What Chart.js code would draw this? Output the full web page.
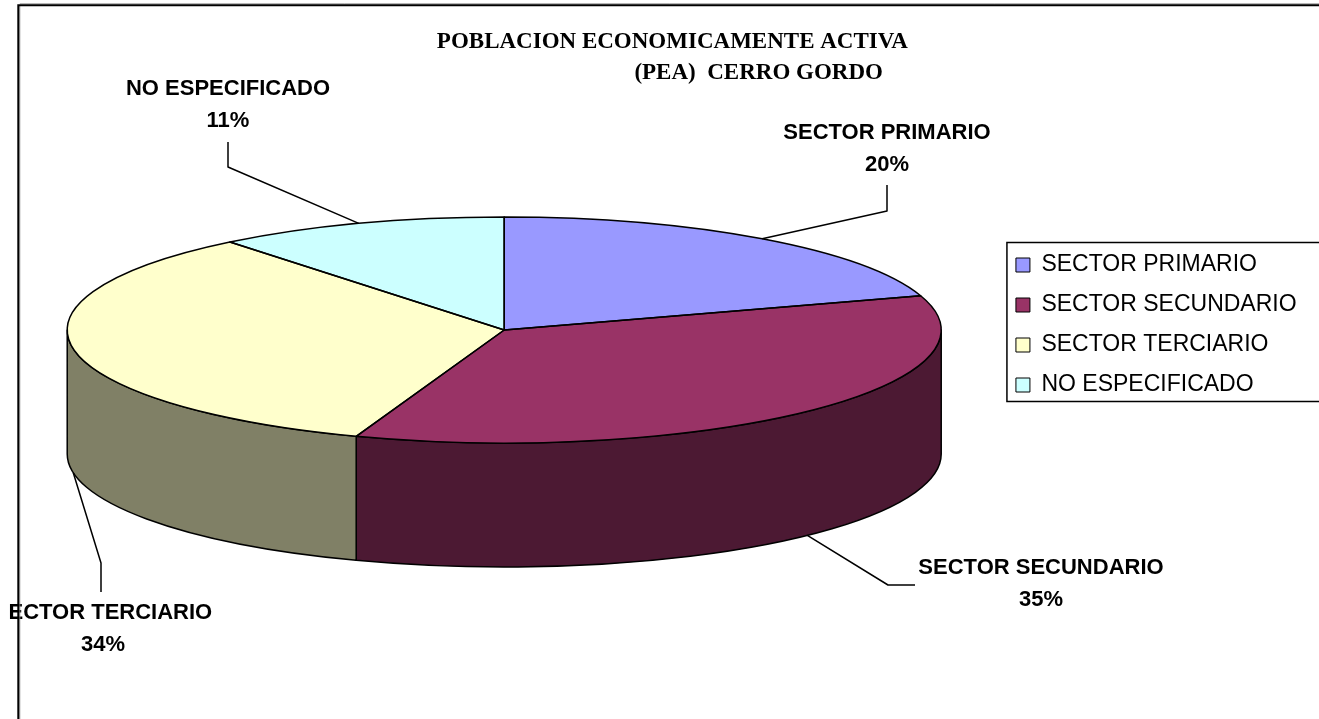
<!DOCTYPE html>
<html>
<head>
<meta charset="utf-8">
<script src="https://cdn.jsdelivr.net/npm/chart.js@4.4.0/dist/chart.umd.min.js"></script>
<style>
html,body{margin:0;padding:0;background:#fff;overflow:hidden}
#wrap{width:1319px;height:719px;position:relative}
</style>
</head>
<body>
<div id="wrap"><canvas id="c" width="1319" height="719"></canvas></div>
<script>
// ---- data ----
const categories = ['SECTOR PRIMARIO', 'SECTOR SECUNDARIO', 'SECTOR TERCIARIO', 'NO ESPECIFICADO'];
const shares = [20.1, 35.4, 33.7, 10.8];
const titleLines = ['     POBLACION ECONOMICAMENTE ACTIVA', '                                   (PEA)  CERRO GORDO'];

// ---- styles ----
const topColors  = ['#9999FF', '#993366', '#FFFFCC', '#CCFFFF'];
const sideColors = ['#4C4C80', '#4C1933', '#808066', '#668080'];
const TILT = 0.2586;   // vertical squash of the pie disc
const DEPTH = 124;     // thickness of the 3D disc in px
const LABEL_FONT = 'bold 22px "Liberation Sans", Arial, sans-serif';
const LABEL_LINE = 32;
const labelLayout = [
  {x: 887,  y: 133, leader: [[887, 211], [887, 185]]},
  {x: 1041, y: 568, leader: [[888, 585], [915, 585]]},
  {x: 103,  y: 613, leader: [[101, 563], [101, 592]]},
  {x: 228,  y: 89,  leader: [[228, 167], [228, 142]]}
];

function rim(el, a, drop) {
  return [el.x + el.outerRadius * Math.cos(a),
          el.y + el.outerRadius * TILT * Math.sin(a) + (drop ? DEPTH : 0)];
}

const pie3d = {
  id: 'pie3d',
  beforeDatasetsDraw(chart) {
    const ctx = chart.ctx;
    const arcs = chart.getDatasetMeta(0).data;
    ctx.save();
    ctx.lineWidth = 1.5; ctx.strokeStyle = '#000'; ctx.lineJoin = 'round';
    arcs.forEach((el, i) => {
      const r = el.outerRadius, s = el.startAngle, e = el.endAngle;
      for (const k of [-2, 0, 2]) {
        const lo = Math.max(s, k * Math.PI), hi = Math.min(e, (k + 1) * Math.PI);
        if (hi - lo <= 1e-6) continue;
        ctx.beginPath();
        ctx.ellipse(el.x, el.y, r, r * TILT, 0, lo, hi);
        ctx.ellipse(el.x, el.y + DEPTH, r, r * TILT, 0, hi, lo, true);
        ctx.closePath();
        ctx.fillStyle = sideColors[i];
        ctx.fill(); ctx.stroke();
      }
    });
    ctx.restore();
    const c = arcs[0];
    ctx.save();
    ctx.translate(c.x, c.y); ctx.scale(1, TILT); ctx.translate(-c.x, -c.y);
  },
  afterDatasetsDraw(chart) {
    const ctx = chart.ctx;
    ctx.restore();
    const arcs = chart.getDatasetMeta(0).data;
    const total = shares.reduce((a, b) => a + b, 0);
    ctx.save();
    ctx.lineWidth = 1.5; ctx.strokeStyle = '#000'; ctx.lineJoin = 'round';
    arcs.forEach((el) => {
      const r = el.outerRadius;
      const p = rim(el, el.startAngle, false);
      ctx.beginPath();
      ctx.moveTo(el.x, el.y);
      ctx.lineTo(p[0], p[1]);
      ctx.ellipse(el.x, el.y, r, r * TILT, 0, el.startAngle, el.endAngle);
      ctx.closePath();
      ctx.stroke();
    });
    // data labels with leader lines
    ctx.beginPath(); ctx.rect(8, 0, 4000, 4000); ctx.clip();
    arcs.forEach((el, i) => {
      const mid = (el.startAngle + el.endAngle) / 2;
      const front = Math.sin(mid) > 0;
      const st = rim(el, mid, front);
      const L = labelLayout[i];
      ctx.beginPath();
      ctx.moveTo(st[0], st[1]);
      L.leader.forEach(pt => ctx.lineTo(pt[0], pt[1]));
      ctx.lineWidth = 1.5; ctx.stroke();
      ctx.fillStyle = '#000';
      ctx.font = LABEL_FONT; ctx.textAlign = 'center'; ctx.textBaseline = 'middle';
      ctx.fillText(chart.data.labels[i], L.x, L.y);
      ctx.fillText(Math.round(shares[i] * 100 / total) + '%', L.x, L.y + LABEL_LINE);
    });
    ctx.restore();
  },
  afterDraw(chart) {
    const ctx = chart.ctx;
    ctx.save();
    // legend frame
    const hb = chart.legend.legendHitBoxes;
    if (hb && hb.length) {
      const first = hb[0], last = hb[hb.length - 1];
      ctx.strokeStyle = '#000'; ctx.lineWidth = 1.5;
      ctx.beginPath();
      ctx.moveTo(4000, first.top - 11);
      ctx.lineTo(first.left - 9, first.top - 11);
      ctx.lineTo(first.left - 9, last.top + last.height + 5);
      ctx.lineTo(4000, last.top + last.height + 5);
      ctx.stroke();
    }
    // outer chart frame
    ctx.strokeStyle = '#9a9a9a'; ctx.lineWidth = 1;
    ctx.beginPath(); ctx.moveTo(4000, 3.8); ctx.lineTo(19.8, 3.8); ctx.stroke();
    ctx.beginPath(); ctx.moveTo(19.8, 6); ctx.lineTo(19.8, 4000); ctx.stroke();
    ctx.strokeStyle = '#000'; ctx.lineWidth = 2;
    ctx.beginPath(); ctx.moveTo(18.3, 4000); ctx.lineTo(18.3, 5.2); ctx.lineTo(4000, 5.2); ctx.stroke();
    ctx.restore();
  }
};

new Chart(document.getElementById('c'), {
  type: 'pie',
  data: {
    labels: categories,
    datasets: [{
      data: shares,
      backgroundColor: topColors,
      borderWidth: 0,
      clip: false
    }]
  },
  options: {
    responsive: false,
    animation: false,
    events: [],
    radius: 437,
    layout: {padding: {left: 9.5, right: 12.4, top: 0, bottom: 69}},
    plugins: {
      tooltip: {enabled: false},
      title: {
        display: true,
        text: titleLines,
        color: '#000',
        align: 'center',
        font: {family: '"Liberation Serif", "Times New Roman", serif', size: 23, weight: 'bold', lineHeight: 31 / 23},
        padding: {top: 26.5, bottom: -78.5}
      },
      legend: {
        display: true,
        position: 'right',
        align: 'center',
        fullSize: true,
        labels: {
          color: '#000',
          font: {family: '"Liberation Sans", Arial, sans-serif', size: 23},
          boxWidth: 14,
          boxHeight: 14,
          padding: 17,
          generateLabels(chart) {
            const items = Chart.overrides.doughnut.plugins.legend.labels.generateLabels(chart);
            items.forEach(it => { it.strokeStyle = '#000'; it.lineWidth = 1; });
            return items;
          }
        }
      }
    }
  },
  plugins: [pie3d]
});
</script>
</body>
</html>
